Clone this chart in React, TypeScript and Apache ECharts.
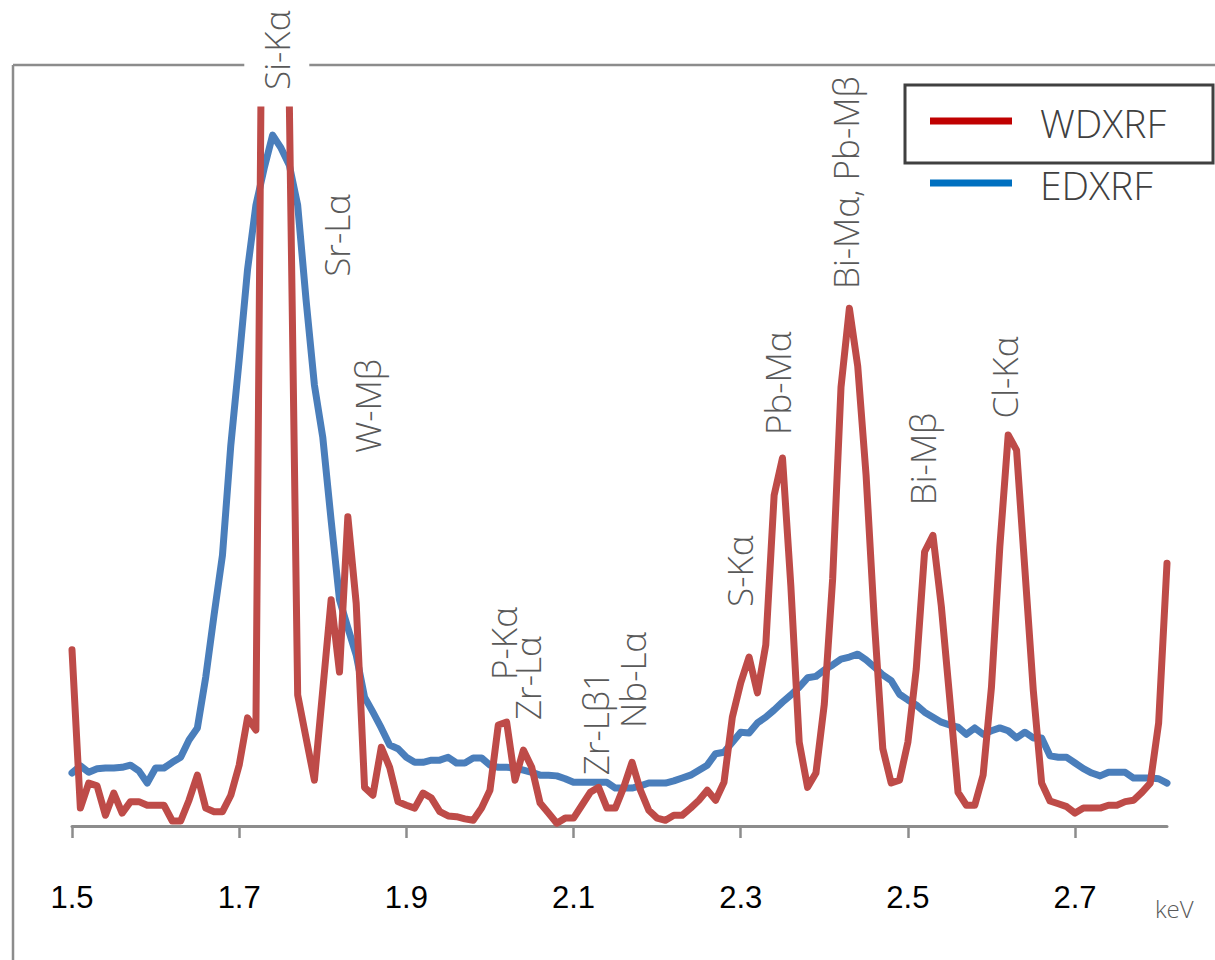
import React, { useEffect, useRef } from "react";
import * as echarts from "echarts";

// Energy channels (keV)
const energyKeV = [
  1.5, 1.51, 1.52, 1.53, 1.54, 1.55, 1.56, 1.57, 1.58, 1.59,
  1.6, 1.61, 1.62, 1.63, 1.64, 1.65, 1.66, 1.67, 1.68, 1.69,
  1.7, 1.71, 1.72, 1.73, 1.74, 1.75, 1.76, 1.77, 1.78, 1.79,
  1.8, 1.81, 1.82, 1.83, 1.84, 1.85, 1.86, 1.87, 1.88, 1.89,
  1.9, 1.91, 1.92, 1.93, 1.94, 1.95, 1.96, 1.97, 1.98, 1.99,
  2.0, 2.01, 2.02, 2.03, 2.04, 2.05, 2.06, 2.07, 2.08, 2.09,
  2.1, 2.11, 2.12, 2.13, 2.14, 2.15, 2.16, 2.17, 2.18, 2.19,
  2.2, 2.21, 2.22, 2.23, 2.24, 2.25, 2.26, 2.27, 2.28, 2.29,
  2.3, 2.31, 2.32, 2.33, 2.34, 2.35, 2.36, 2.37, 2.38, 2.39,
  2.4, 2.41, 2.42, 2.43, 2.44, 2.45, 2.46, 2.47, 2.48, 2.49,
  2.5, 2.51, 2.52, 2.53, 2.54, 2.55, 2.56, 2.57, 2.58, 2.59,
  2.6, 2.61, 2.62, 2.63, 2.64, 2.65, 2.66, 2.67, 2.68, 2.69,
  2.7, 2.71, 2.72, 2.73, 2.74, 2.75, 2.76, 2.77, 2.78, 2.79,
  2.8, 2.81,
];

// WDXRF intensity (relative units, 100 = top of plot; Si-Kα runs off scale)
const wdxrf = [
  24.6, 2.5, 6.0, 5.6, 1.5, 4.6, 1.8, 3.4, 3.4, 2.9,
  2.9, 2.9, 0.7, 0.7, 3.6, 7.1, 2.5, 2.0, 2.0, 4.3,
  8.5, 15.1, 13.4, 159, 190, 170, 101, 18.3, 12.3, 6.4,
  19.0, 31.6, 21.5, 43.2, 31.1, 5.4, 4.3, 11.0, 8.2, 3.4,
  2.9, 2.5, 4.6, 3.9, 2.0, 1.4, 1.3, 1.0, 0.8, 2.5,
  5.0, 14.1, 14.5, 6.4, 10.6, 8.2, 3.2, 1.8, 0.4, 1.1,
  1.1, 2.9, 4.7, 5.4, 2.5, 2.5, 5.4, 8.9, 5.0, 2.2,
  1.1, 0.8, 1.5, 1.5, 2.5, 3.6, 5.0, 3.6, 6.1, 15.2,
  20.0, 23.6, 18.6, 25.3, 46.2, 51.4, 33.5, 11.7, 5.4, 7.4,
  17.0, 34.5, 61.3, 72.3, 64.2, 49.0, 28.4, 10.8, 6.0, 6.4,
  11.7, 21.9, 38.3, 40.6, 30.7, 17.9, 4.7, 2.9, 2.9, 7.1,
  19.4, 39.0, 54.6, 52.5, 35.8, 19.0, 6.0, 3.5, 3.1, 2.7,
  1.8, 2.5, 2.5, 2.5, 2.9, 2.9, 3.4, 3.6, 4.7, 6.0,
  14.4, 36.7,
];

// EDXRF intensity (relative units)
const edxrf = [
  7.4, 8.4, 7.5, 8.0, 8.1, 8.1, 8.2, 8.5, 7.7, 6.0,
  8.1, 8.1, 8.9, 9.6, 12.0, 13.7, 20.8, 29.5, 37.8, 53.2,
  65.1, 77.7, 86.7, 91.9, 96.5, 94.7, 92.3, 86.7, 73.5, 61.6,
  54.3, 42.7, 31.6, 27.7, 23.9, 18.0, 15.9, 13.7, 11.3, 10.8,
  9.6, 8.9, 8.9, 9.2, 9.2, 9.6, 8.8, 8.8, 9.5, 9.5,
  8.5, 8.2, 8.2, 8.1, 7.8, 7.5, 7.1, 7.1, 7.0, 6.6,
  6.1, 6.1, 6.1, 6.1, 6.1, 5.3, 5.3, 5.3, 5.6, 6.0,
  6.0, 6.0, 6.3, 6.7, 7.1, 7.8, 8.5, 10.1, 10.3, 11.7,
  13.1, 13.0, 14.4, 15.2, 16.2, 17.3, 18.3, 19.4, 20.7, 20.9,
  21.8, 22.5, 23.3, 23.6, 24.0, 23.2, 22.2, 21.1, 20.3, 18.4,
  17.6, 16.9, 15.9, 15.2, 14.5, 14.1, 13.8, 12.8, 13.7, 12.8,
  13.3, 13.7, 13.3, 12.3, 13.1, 12.3, 12.3, 9.8, 9.6, 9.6,
  8.8, 8.0, 7.4, 7.0, 7.5, 7.5, 7.5, 6.7, 6.7, 6.7,
  6.6, 6.0,
];

// Labelled x-axis ticks (keV)
const tickValues = [1.5, 1.7, 1.9, 2.1, 2.3, 2.5, 2.7];

// Emission-line annotations: text starts at (keV, intensity) and runs upward
const peakLabels = [
  { text: "Si-Kα", keV: 1.745, value: 102.8 },
  { text: "Sr-Lα", keV: 1.816, value: 76.7 },
  { text: "W-Mβ", keV: 1.854, value: 52.1 },
  { text: "P-Kα", keV: 2.016, value: 20.4 },
  { text: "Zr-Lα", keV: 2.045, value: 14.8 },
  { text: "Zr-Lβ1", keV: 2.126, value: 7.1 },
  { text: "Nb-Lα", keV: 2.17, value: 13.7 },
  { text: "S-Kα", keV: 2.298, value: 30.6 },
  { text: "Pb-Mα", keV: 2.344, value: 54.6 },
  { text: "Bi-Mα, Pb-Mβ", keV: 2.425, value: 75.0 },
  { text: "Bi-Mβ", keV: 2.517, value: 44.8 },
  { text: "Cl-Kα", keV: 2.615, value: 56.9 },
];

const seriesNames = ["WDXRF", "EDXRF"];
const lineColors = { WDXRF: "#BE4B48", EDXRF: "#4A7EBB" };
const legendColors = { WDXRF: "#C00000", EDXRF: "#0070C0" };

const LABEL_FONT = '"Open Sans", "Noto Sans", sans-serif';
const TICK_FONT = '"Liberation Sans Narrow", "Liberation Sans", sans-serif';

const App = () => {
  const ref = useRef<HTMLDivElement>(null);

  useEffect(() => {
    if (!ref.current) return;
    const chart = echarts.init(ref.current, null, { renderer: "svg" });

    const toPairs = (vals: number[]) => energyKeV.map((e, i) => [e, vals[i]]);

    chart.setOption({
      animation: false,
      backgroundColor: "#ffffff",
      grid: { left: 72, right: 48, top: 110, bottom: 134 },
      xAxis: {
        type: "value",
        min: 1.5,
        max: 2.81,
        splitLine: { show: false },
        axisLine: { show: true, lineStyle: { color: "#8C8C8C", width: 3 } },
        axisTick: {
          show: true,
          length: 12,
          customValues: tickValues,
          lineStyle: { color: "#8C8C8C", width: 2.5 },
        },
        axisLabel: {
          customValues: tickValues,
          formatter: (v: number) => v.toFixed(1),
          color: "#000000",
          fontSize: 31,
          fontFamily: TICK_FONT,
          margin: 71,
          verticalAlign: "middle",
        },
      },
      yAxis: {
        type: "value",
        min: 0,
        max: 100,
        show: false,
        splitLine: { show: false },
      },
      series: [
        {
          name: seriesNames[1],
          type: "line",
          data: toPairs(edxrf),
          showSymbol: false,
          clip: true,
          lineStyle: { color: lineColors.EDXRF, width: 7, join: "round", cap: "round" },
          z: 2,
        },
        {
          name: seriesNames[0],
          type: "line",
          data: toPairs(wdxrf),
          showSymbol: false,
          clip: true,
          lineStyle: { color: lineColors.WDXRF, width: 7, join: "round", cap: "round" },
          z: 3,
        },
      ],
    });

    const frameColor = "#8C8C8C";
    const graphics: any[] = [
      // chart border (top and left edges)
      { type: "line", shape: { x1: 13, y1: 65, x2: 1215, y2: 65 }, style: { stroke: frameColor, lineWidth: 2.5 }, z: 1 },
      { type: "line", shape: { x1: 13, y1: 65, x2: 13, y2: 960 }, style: { stroke: frameColor, lineWidth: 2.5 }, z: 1 },
      // legend
      { type: "rect", shape: { x: 905, y: 85, width: 308, height: 78 }, style: { fill: "transparent", stroke: "#404040", lineWidth: 3 }, z: 5 },
      { type: "line", shape: { x1: 930, y1: 121, x2: 1012, y2: 121 }, style: { stroke: legendColors.WDXRF, lineWidth: 7 }, z: 5 },
      { type: "line", shape: { x1: 930, y1: 183, x2: 1012, y2: 183 }, style: { stroke: legendColors.EDXRF, lineWidth: 7 }, z: 5 },
      {
        type: "text", x: 1040, y: 122, z: 5,
        style: { text: seriesNames[0], fill: "#404040", fontSize: 39, fontFamily: LABEL_FONT, fontWeight: 300, align: "left", verticalAlign: "middle" },
      },
      {
        type: "text", x: 1040, y: 184, z: 5,
        style: { text: seriesNames[1], fill: "#404040", fontSize: 39, fontFamily: LABEL_FONT, fontWeight: 300, align: "left", verticalAlign: "middle" },
      },
      // axis unit
      {
        type: "text", x: 1155, y: 908, z: 5,
        style: { text: "keV", fill: "#595959", fontSize: 24, fontFamily: LABEL_FONT, fontWeight: 300, align: "left", verticalAlign: "middle" },
      },
    ];

    peakLabels.forEach((p, idx) => {
      const pt = chart.convertToPixel({ gridIndex: 0 }, [p.keV, p.value]) as number[];
      const isTop = idx === 0;
      graphics.push({
        type: "text",
        x: pt[0],
        y: pt[1],
        rotation: Math.PI / 2,
        z: 6,
        style: {
          text: p.text,
          fill: "#595959",
          fontSize: 35,
          fontFamily: LABEL_FONT,
          fontWeight: 300,
          align: "left",
          verticalAlign: "middle",
          ...(isTop ? { backgroundColor: "#ffffff", padding: [15, 4, 15, 0] } : {}),
        },
      });
    });

    chart.setOption({ graphic: graphics });

    return () => chart.dispose();
  }, []);

  return (
    <div
      ref={ref}
      style={{ position: "absolute", left: 0, top: 0, width: 1215, height: 960 }}
    />
  );
};

export default App;
